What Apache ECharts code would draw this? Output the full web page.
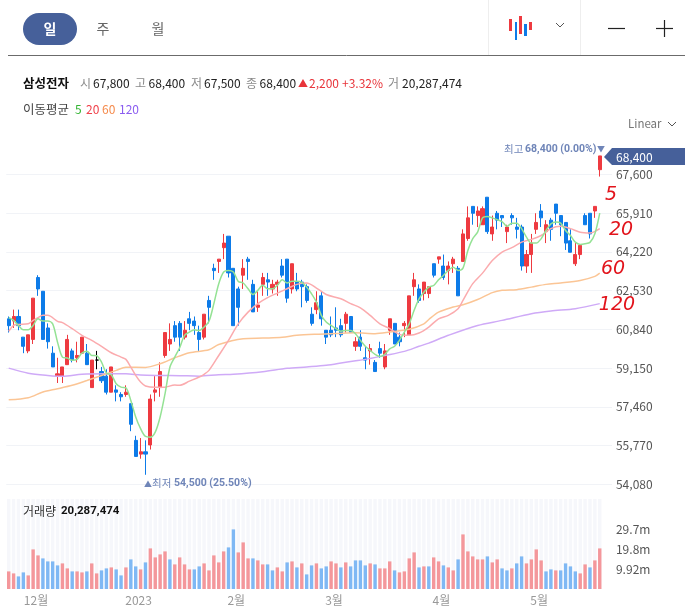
<!DOCTYPE html>
<html lang="ko">
<head>
    <meta charset="utf-8" />
    <title>삼성전자</title>
    <script src="https://cdn.jsdelivr.net/npm/echarts@6/dist/echarts.min.js"></script>
    <style type="text/css">
        html, body { margin: 0; padding: 0; background: #fff; }
        #main { width: 685px; height: 608px; }
    </style>
</head>
<body>
    <div id="main"></div>
    <script type="text/javascript">
        var dates = [
            '11-23','11-24','11-25','11-28','11-29','11-30',
            '12-01','12-02','12-05','12-06','12-07','12-08','12-09','12-12','12-13','12-14','12-15','12-16','12-19','12-20','12-21','12-22','12-23','12-26','12-27','12-28','12-29',
            '01-02','01-03','01-04','01-05','01-06','01-09','01-10','01-11','01-12','01-13','01-16','01-17','01-18','01-19','01-20','01-25','01-26','01-27','01-30','01-31',
            '02-01','02-02','02-03','02-06','02-07','02-08','02-09','02-10','02-13','02-14','02-15','02-16','02-17','02-20','02-21','02-22','02-23','02-24','02-27','02-28',
            '03-02','03-03','03-06','03-07','03-08','03-09','03-10','03-13','03-14','03-15','03-16','03-17','03-20','03-21','03-22','03-23','03-24','03-27','03-28','03-29','03-30','03-31',
            '04-03','04-04','04-05','04-06','04-07','04-10','04-11','04-12','04-13','04-14','04-17','04-18','04-19','04-20','04-21','04-24','04-25','04-26','04-27','04-28',
            '05-02','05-03','05-04','05-08','05-09','05-10','05-11','05-12','05-15','05-16','05-17','05-18','05-19',
            'pad1','pad2'
        ];
        var monthLabels = { '12-01': '12월', '01-02': '2023', '02-01': '2월', '03-02': '3월', '04-03': '4월', '05-02': '5월' };
        var priceTicks = [54080, 55770, 57460, 59150, 60840, 62530, 64220, 65910, 67600];
        var volumeTicks = [9.92, 19.8, 29.7];

        // open, close, low, high
        var ohlc = [
            [61300,61000,60700,61400],[61200,61400,60900,61700],[61400,61000,60800,61700],[60500,60100,59800,60500],[59900,60600,59800,60600],
            [60400,62200,60200,62200],[63100,62600,62300,63200],[62500,60400,60400,62500],[60900,60300,60000,61100],[59800,59200,59200,60100],
            [58800,58900,58500,59600],[58800,59200,58500,59200],[59300,60400,59300,60600],[59900,59500,59400,60000],[59600,59700,59400,60300],
            [59800,60500,59800,60500],[59800,59300,59300,60200],[58300,59500,58300,59500],[59500,59500,59100,59900],[59000,58600,58500,59200],
            [58800,58100,58000,59100],[58100,59200,58100,59200],[58200,58100,57700,58400],[58000,57900,57700,58100],[58000,58100,57900,58400],
            [57600,56700,56400,57600],[56000,55300,55300,56200],[55400,55500,55200,56100],[55500,55400,54500,56000],[55800,57800,55600,58000],
            [58100,58200,57700,58800],[58300,59000,57900,59400],[59700,60700,59600,60700],[60200,60400,59900,61100],[61000,60500,60300,61200],
            [61100,60500,59900,61200],[60500,60800,60400,61200],[61300,61100,60800,61600],[61200,61000,60600,61400],[60700,60400,59900,61000],
            [60500,61500,60400,61500],[62100,61800,61100,62300],[63500,63400,63000,63700],[63800,63900,63300,63900],[64400,64600,63900,65000],
            [64900,63300,63100,64900],[63500,61000,61000,63500],[62600,61800,61000,62700],[63200,63500,62600,63900],[63900,63800,63000,64000],
            [62800,61600,61600,63000],[61800,61900,61600,62500],[62800,63100,62300,63300],[63000,62900,62300,63300],[62600,62800,62400,63000],
            [62800,62900,62300,63000],[63600,63200,63100,63900],[63900,62200,62000,63900],[62600,63700,62400,63700],[62900,62600,62500,63300],
            [62900,62700,61800,63000],[62700,62100,62000,62800],[61500,61100,61000,61800],[61700,62000,61500,62500],[62300,61300,61000,62500],
            [60800,60500,60200,60800],[60800,60600,60500,61400],[60900,60800,60500,61800],[61000,60600,60500,61300],[61100,61500,60700,61600],
            [61400,60700,60700,61400],[60100,60300,59900,60500],[60500,60100,59900,60800],[59600,59500,59100,60100],[59900,60000,59300,60200],
            [59400,59000,59000,59500],[60000,59800,59600,60300],[59200,59900,59100,60200],[60800,61300,60600,61300],[61100,60200,60200,61100],
            [60500,60300,60100,60700],[61000,61100,60500,61200],[60600,62300,60600,62300],[62700,63000,62300,63300],[62600,62100,62000,62800],
            [62400,62900,62100,62900],[62400,62700,62200,62700],[63700,63200,63100,63700],[63900,64000,63700,64000],[63600,63100,63000,64100],
            [63400,63600,62800,63800],[63700,63900,63300,64000],[63500,62300,62300,63600],[63800,65000,63800,65200],[64800,65700,64700,66200],
            [66200,65900,65400,66200],[65800,66000,65300,66200],[65400,66100,65400,66200],[66600,65100,65000,66600],[65000,65300,64700,65800],
            [65900,65600,65200,66000],[65800,65700,65300,65800],[65100,65300,64600,65400],[65800,65700,65400,65900],[65300,65200,64800,65700],
            [65300,63600,63400,65400],[63600,64100,63300,64300],[64100,64600,63300,65000],[65200,65500,65000,65900],[66000,65700,65300,66300],
            [65100,65400,64600,65600],[65600,65200,64700,65700],[66300,65900,65400,66300],[65800,65400,64900,65800],[65500,64600,64300,65500],
            [64700,64200,64200,65200],[63700,64100,63600,64600],[64100,64500,63900,64500],[65800,65400,65400,65900],[65900,65000,64800,65900],
            [66000,66200,65700,66200],[67800,68400,67500,68400]
        ];

        var ma5 = [
            61350,61230,61010,60820,60820,61010,61300,61200,61200,61080,60280,59630,59590,59490,59530,59810,59890,59700,59690,59410,
            58930,58860,58470,58320,58290,57740,57020,56510,56170,56140,56360,57020,58030,59190,59630,60040,60580,60720,60820,60790,
            60940,61190,61960,62830,63340,63410,63340,62930,62860,62610,62360,62540,62760,62610,62610,62760,63000,62860,62940,62940,
            62890,62680,62390,62030,61450,61160,61010,60870,60760,60790,60790,60650,60360,60100,59920,59750,59660,59750,59990,60100,
            60360,60720,61080,61670,62170,62460,62680,62750,63000,63190,63410,63550,63410,63510,64280,64790,65080,65700,65760,65700,
            65620,65540,65330,65470,65470,65230,64860,64600,64600,64790,65150,65440,65520,65470,65150,64930,64640,64540,64570,64630,
            65010,65910
        ];
        var ma20Days = [0,1,2,4,5,6,7,8,10,11,13,15,17,19,21,23,24,25,26,27,28,30,32,34,35,37,39,40,41,43,45,47,49,51,53,55,57,59,61,63,65,68,70,72,74,76,78,80,82,84,86,88,90,92,93,95,97,99,101,103,105,107,109,111,113,115,117,119,121];
        var ma20 = [60750,61010,61050,61080,61230,61350,61450,61450,61190,61130,60870,60580,60360,60100,59820,59630,59530,59190,58830,58540,58370,58310,58320,58410,58400,58580,58760,58880,59050,59700,60360,61080,61590,61960,62220,62420,62610,62800,62860,62640,62360,62170,61960,61780,61450,61080,60870,60620,60580,60680,60940,61300,61450,61740,62100,62830,63290,63840,64210,64400,64640,64760,64930,65230,65330,65230,65070,65040,65230];
        var ma60Days = [0,4,7,10,13,16,19,22,24,28,31,34,37,41,43,48,52,56,59,63,67,71,75,78,82,85,86,88,91,93,96,99,101,104,107,110,113,117,120,121];
        var ma60 = [57770,57860,58110,58250,58400,58610,58830,59050,59190,59180,59340,59600,59820,59950,60180,60430,60460,60490,60580,60630,60660,60690,60650,60720,60840,61080,61270,61590,61810,61910,62140,62440,62540,62570,62680,62800,62860,62970,63150,63290];
        var ma120Days = [0,4,8,11,15,20,24,27,31,35,39,43,46,52,57,61,65,69,73,77,81,84,86,90,96,101,107,111,116,121];
        var ma120 = [59150,58930,58830,58790,58880,58900,58900,58850,58830,58820,58800,58860,58880,58990,59140,59200,59270,59410,59530,59700,59880,60100,60240,60580,61010,61230,61520,61640,61740,61960];

        // in millions of shares
        var volume = [
            8.8,7.8,6.3,8.3,6.8,19.8,16.8,15.3,13.8,13.8,11.8,12.8,10.3,8.8,8.8,8.3,8.8,12.8,7.8,9.3,10.3,10.8,9.8,6.8,10.8,14.8,11.3,9.8,13.3,20.3,
            15.8,17.3,18.8,14.8,12.3,15.8,12.3,9.8,9.8,11.3,12.8,9.3,16.8,13.3,18.8,20.8,29.8,18.3,23.3,15.3,15.3,14.3,12.3,12.3,9.3,10.8,8.8,13.3,13.8,10.8,
            12.8,7.3,11.8,12.8,10.3,11.3,13.8,12.8,10.8,13.3,11.3,14.3,14.3,11.8,12.8,12.3,10.3,10.3,13.8,9.3,8.3,8.8,15.3,18.3,10.8,11.3,11.3,15.8,13.8,11.8,
            10.8,9.3,14.8,27.3,18.8,16.3,14.8,14.8,16.3,13.3,14.8,10.3,9.3,10.3,12.8,16.3,12.8,14.8,19.8,14.3,8.8,9.8,9.3,9.3,12.8,11.3,8.8,7.8,12.3,10.8,14.3,20.3
        ];
        var volumeUp = [
            1,1,0,0,1,1,1,0,0,0,0,1,1,0,1,1,0,1,1,0,0,1,0,0,1,0,0,1,0,1,
            1,1,1,0,1,1,1,1,0,0,1,1,1,1,1,0,0,1,1,1,0,1,1,0,0,1,1,0,1,0,
            1,0,0,1,0,0,1,1,0,1,0,0,0,0,1,0,1,1,1,0,1,1,1,1,0,1,0,1,1,0,
            1,1,0,1,1,1,1,1,0,1,1,0,0,1,0,0,1,1,1,1,0,0,1,0,0,0,0,1,1,0,1,1
        ];

        var FONT = '"Noto Sans CJK KR", "Noto Sans", sans-serif';
        var UP = '#ee3a40', DOWN = '#0d7be8';
        var NAVY = '#46609a', HEAD = '#222', MUTED = '#8a8a8a', LABEL = '#6f85b8';

        function pairs(days, values) {
            var out = [];
            for (var i = 0; i < days.length; i++) out.push([days[i], values[i]]);
            return out;
        }

        function txt(text, x, y, fill, size, weight, align, family) {
            return {
                type: 'text', silent: true, z: 20,
                style: {
                    text: text, x: x, y: y, fill: fill, align: align || 'left', verticalAlign: 'middle',
                    font: (weight || 'normal') + ' ' + size + 'px ' + (family || FONT)
                }
            };
        }
        function box(x, y, w, h, fill, r) {
            return { type: 'rect', silent: true, z: 20, shape: { x: x, y: y, width: w, height: h, r: r || 0 }, style: { fill: fill } };
        }
        function stroke(points, color, width) {
            return { type: 'polyline', silent: true, z: 20, shape: { points: points }, style: { stroke: color, lineWidth: width || 1, fill: 'none' } };
        }
        function note(text, x, y) {
            return {
                type: 'text', silent: true, z: 30,
                style: { text: text, x: x, y: y, fill: '#e2141c', align: 'center', verticalAlign: 'middle', font: 'italic 19px "DejaVu Sans", sans-serif' }
            };
        }

        var headerBits = [
            // tabs
            box(23, 13, 54, 32, NAVY, 16),
            txt('일', 50, 29, '#fff', 14, 'bold', 'center'),
            txt('주', 103, 29, '#666', 14, 'normal', 'center'),
            txt('월', 158, 29, '#666', 14, 'normal', 'center'),
            stroke([[8, 55.5], [685, 55.5]], '#6b6b6b', 1),
            stroke([[488.5, 0], [488.5, 55]], '#eeeeee', 1),
            stroke([[580.5, 0], [580.5, 55]], '#eeeeee', 1),
            // chart type icon
            box(509, 19, 3, 12, UP), box(515, 22, 2, 18, DOWN), box(519, 16, 3, 18, UP), box(524, 24, 3, 12, DOWN), box(529, 22, 3, 8, UP),
            stroke([[556, 23], [560, 27], [564, 23]], '#555', 1),
            stroke([[608, 28.5], [625, 28.5]], '#222', 1.2),
            stroke([[656, 28.5], [673, 28.5]], '#222', 1.2),
            stroke([[664.5, 20], [664.5, 37]], '#222', 1.2),
            // quote line
            txt('삼성전자', 23, 83, '#111', 12.5, 'bold'),
            txt('시', 80, 83, MUTED, 12), txt('67,800', 93, 83, HEAD, 12),
            txt('고', 135, 83, MUTED, 12), txt('68,400', 148.5, 83, HEAD, 12),
            txt('저', 191, 83, MUTED, 12), txt('67,500', 204, 83, HEAD, 12),
            txt('종', 246, 83, MUTED, 12), txt('68,400', 259.5, 83, HEAD, 12),
            txt('▲', 298, 83, '#e8343a', 10), txt('2,200', 309, 83, '#e8343a', 12), txt('+3.32%', 342, 83, '#e8343a', 12),
            txt('거', 388, 83, MUTED, 12), txt('20,287,474', 402, 83, HEAD, 12),
            // moving average legend
            txt('이동평균', 23, 109, '#444', 12.5),
            txt('5', 75, 109, '#35b535', 12), txt('20', 86, 109, '#f0404a', 12), txt('60', 102, 109, '#f58a4b', 12), txt('120', 119, 109, '#8a5cf0', 12),
            txt('Linear', 628, 124, '#777', 11.5),
            stroke([[668, 122], [672, 126], [676, 122]], '#555', 1),
            // high and low callouts
            txt('최고', 504, 149, LABEL, 10.5), txt('68,400 (0.00%)', 525, 149, LABEL, 10.5, 'bold', 'left', 'Roboto'), txt('▼', 597, 149, LABEL, 8),
            txt('▲', 144, 483.5, LABEL, 8), txt('최저', 152, 483.5, LABEL, 10.5), txt('54,500 (25.50%)', 174, 483.5, LABEL, 10.5, 'bold', 'left', 'Roboto'),
            // last price tag
            { type: 'polygon', silent: true, z: 20, shape: { points: [[604, 157], [612, 148], [685, 148], [685, 165], [612, 165]] }, style: { fill: NAVY } },
            txt('68,400', 616, 157, '#fff', 12),
            // volume title
            txt('거래량', 23, 511, '#333', 12), txt('20,287,474', 61, 511, '#111', 11.5, 'bold', 'left', 'Roboto'),
            // handwritten notes
            note('5', 611, 195), note('20', 621, 230), note('60', 613, 269), note('120', 617, 305)
        ];

        var myChart = echarts.init(document.getElementById('main'));
        myChart.setOption({
            animation: false,
            textStyle: { fontFamily: FONT },
            graphic: headerBits,
            grid: [
                { left: 6.26, width: 605.7, top: 135.5, height: 348.9 },
                { left: 6.26, width: 605.7, top: 499, height: 90 }
            ],
            xAxis: [
                {
                    type: 'category', gridIndex: 0, data: dates,
                    axisLine: { show: false }, axisTick: { show: false }, axisLabel: { show: false }, splitLine: { show: false }
                },
                {
                    type: 'category', gridIndex: 1, data: dates,
                    axisLine: { show: false }, axisTick: { show: false }, splitLine: { show: false },
                    axisLabel: {
                        color: '#999', fontSize: 12, margin: 5, padding: [0, 4, 0, 0],
                        interval: function (i, val) { return monthLabels[val] !== undefined; },
                        formatter: function (val) { return monthLabels[val]; }
                    }
                }
            ],
            yAxis: [
                {
                    type: 'value', gridIndex: 0, position: 'right', min: 54080, max: 69290, interval: 1690,
                    axisLine: { show: false }, axisTick: { show: false },
                    splitLine: { lineStyle: { color: '#f1f3f7', width: 1 }, showMaxLine: false },
                    axisLabel: {
                        color: '#555', fontSize: 12, margin: 4, showMaxLabel: false,
                        formatter: function (v) { return priceTicks.indexOf(v) < 0 ? '' : echarts.format.addCommas(v); }
                    }
                },
                {
                    type: 'value', gridIndex: 1, position: 'right', min: 0, max: 45,
                    axisLine: { show: false }, axisTick: { show: false }, splitLine: { show: false },
                    axisLabel: {
                        color: '#555', fontSize: 12, margin: 4, customValues: volumeTicks,
                        formatter: function (v) { return v + 'm'; }
                    }
                }
            ],
            series: [
                {
                    name: 'candle', type: 'candlestick', xAxisIndex: 0, yAxisIndex: 0, barWidth: 3.6, data: ohlc, z: 2,
                    itemStyle: { color: UP, color0: DOWN, borderColor: UP, borderColor0: DOWN, borderColorDoji: '#000', borderWidth: 1 }
                },
                {
                    name: 'MA120', type: 'line', xAxisIndex: 0, yAxisIndex: 0, data: pairs(ma120Days, ma120), smooth: 0.3, showSymbol: false, z: 3,
                    lineStyle: { color: '#cfaaf7', width: 1.5 }
                },
                {
                    name: 'MA60', type: 'line', xAxisIndex: 0, yAxisIndex: 0, data: pairs(ma60Days, ma60), smooth: 0.3, showSymbol: false, z: 3,
                    lineStyle: { color: '#fbc595', width: 1.5 }
                },
                {
                    name: 'MA20', type: 'line', xAxisIndex: 0, yAxisIndex: 0, data: pairs(ma20Days, ma20), smooth: 0.3, showSymbol: false, z: 3,
                    lineStyle: { color: '#fbabae', width: 1.5 }
                },
                {
                    name: 'MA5', type: 'line', xAxisIndex: 0, yAxisIndex: 0, data: ma5, smooth: 0.3, showSymbol: false, z: 3,
                    lineStyle: { color: '#94e294', width: 1.5 }
                },
                {
                    name: 'volume', type: 'bar', xAxisIndex: 1, yAxisIndex: 1, barWidth: 3.4,
                    showBackground: true, backgroundStyle: { color: '#f6f7fb' },
                    data: volume.map(function (v, i) {
                        return { value: v, itemStyle: { color: volumeUp[i] ? '#f4979b' : '#7fb8f4' } };
                    })
                }
            ]
        });
    </script>
</body>
</html>
